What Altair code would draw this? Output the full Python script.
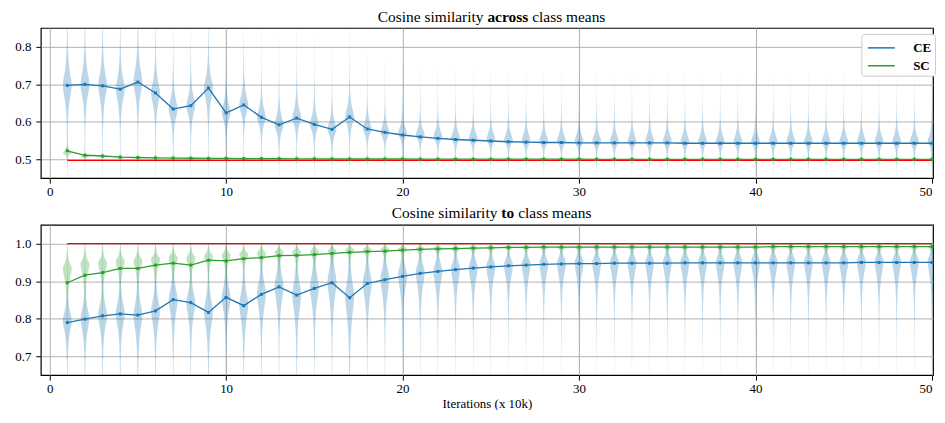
import altair as alt
import numpy as np
import pandas as pd

# ---------------- data ----------------
iters = list(range(1, 51))

# "across class means" panel
ce_across_mean = [0.697, 0.700, 0.696, 0.687, 0.706, 0.677, 0.634, 0.643, 0.690, 0.624,
                  0.645, 0.612, 0.592, 0.610, 0.593, 0.580, 0.613, 0.581, 0.572, 0.565,
                  0.560, 0.556, 0.553, 0.551, 0.549, 0.547, 0.546, 0.545, 0.545, 0.544,
                  0.544, 0.544, 0.544, 0.544, 0.544, 0.543, 0.543, 0.543, 0.543, 0.543,
                  0.543, 0.543, 0.543, 0.543, 0.543, 0.543, 0.543, 0.543, 0.543, 0.543]
ce_across_mode = [0.697, 0.700, 0.696, 0.687, 0.706, 0.677, 0.634, 0.643, 0.690, 0.624,
                  0.645, 0.612, 0.592, 0.610, 0.593, 0.580, 0.613, 0.581, 0.572, 0.569,
                  0.564, 0.560, 0.557, 0.555, 0.553, 0.551, 0.550, 0.549, 0.549, 0.548,
                  0.548, 0.548, 0.548, 0.548, 0.548, 0.547, 0.547, 0.547, 0.547, 0.547,
                  0.547, 0.547, 0.547, 0.547, 0.547, 0.547, 0.547, 0.547, 0.547, 0.547]
ce_across_bhi = [0.042, 0.040, 0.040, 0.038, 0.042, 0.036, 0.032, 0.030, 0.034, 0.028,
                 0.030, 0.026, 0.026, 0.028, 0.026, 0.024, 0.028, 0.022, 0.021, 0.021,
                 0.020, 0.020, 0.020, 0.020, 0.020, 0.020, 0.020, 0.020, 0.020, 0.020,
                 0.020, 0.020, 0.020, 0.020, 0.020, 0.020, 0.020, 0.020, 0.020, 0.020,
                 0.020, 0.020, 0.020, 0.020, 0.020, 0.020, 0.020, 0.020, 0.020, 0.020]
ce_across_blo = [0.042, 0.040, 0.040, 0.038, 0.040, 0.036, 0.030, 0.028, 0.038, 0.024,
                 0.026, 0.022, 0.022, 0.022, 0.020, 0.020, 0.024, 0.016, 0.015, 0.014,
                 0.013, 0.013, 0.013, 0.013, 0.013, 0.013, 0.013, 0.013, 0.013, 0.013,
                 0.013, 0.013, 0.013, 0.013, 0.013, 0.013, 0.013, 0.013, 0.013, 0.013,
                 0.013, 0.013, 0.013, 0.013, 0.013, 0.013, 0.013, 0.013, 0.013, 0.013]

sc_across_mean = [0.523, 0.511, 0.509, 0.506, 0.505, 0.504, 0.5035, 0.503, 0.5025, 0.5025,
                  0.502, 0.502, 0.502, 0.5015, 0.5015, 0.501, 0.501, 0.501, 0.501, 0.501,
                  0.5005, 0.5005, 0.5005, 0.5005, 0.5005, 0.5005, 0.5005, 0.5005, 0.5005, 0.5005,
                  0.5003, 0.5003, 0.5003, 0.5003, 0.5003, 0.5003, 0.5003, 0.5003, 0.5003, 0.5003,
                  0.5003, 0.5003, 0.5003, 0.5003, 0.5003, 0.5003, 0.5003, 0.5003, 0.5003, 0.5003]
sc_across_mode = [0.518, 0.508, 0.507, 0.505, 0.504, 0.503, 0.503, 0.5025, 0.502, 0.502,
                  0.5015, 0.5015, 0.5015, 0.501, 0.501, 0.5008, 0.5008, 0.5008, 0.5008, 0.5008,
                  0.5004, 0.5004, 0.5004, 0.5004, 0.5004, 0.5004, 0.5004, 0.5004, 0.5004, 0.5004,
                  0.5002, 0.5002, 0.5002, 0.5002, 0.5002, 0.5002, 0.5002, 0.5002, 0.5002, 0.5002,
                  0.5002, 0.5002, 0.5002, 0.5002, 0.5002, 0.5002, 0.5002, 0.5002, 0.5002, 0.5002]
sc_across_bhi = [0.008, 0.004] + [0.0025] * 48
sc_across_blo = [0.006, 0.003] + [0.002] * 48

# "to class means" panel
ce_to_mean = [0.790, 0.799, 0.808, 0.813, 0.810, 0.821, 0.851, 0.843, 0.817, 0.857,
              0.835, 0.865, 0.885, 0.863, 0.881, 0.896, 0.856, 0.894, 0.904, 0.913,
              0.921, 0.926, 0.931, 0.935, 0.938, 0.941, 0.943, 0.945, 0.946, 0.947,
              0.947, 0.948, 0.948, 0.948, 0.948, 0.949, 0.949, 0.949, 0.949, 0.949,
              0.949, 0.949, 0.949, 0.949, 0.949, 0.950, 0.950, 0.950, 0.950, 0.950]
ce_to_mode = [0.796, 0.801, 0.810, 0.815, 0.810, 0.822, 0.851, 0.843, 0.820, 0.857,
              0.837, 0.866, 0.886, 0.865, 0.883, 0.898, 0.860, 0.897, 0.908, 0.917,
              0.924, 0.929, 0.934, 0.938, 0.941, 0.944, 0.946, 0.948, 0.949, 0.950,
              0.950, 0.951, 0.951, 0.951, 0.951, 0.952, 0.952, 0.952, 0.952, 0.952,
              0.952, 0.952, 0.952, 0.952, 0.952, 0.953, 0.953, 0.953, 0.953, 0.953]
ce_to_bhi = [0.030, 0.032, 0.034, 0.036, 0.038, 0.036, 0.036, 0.036, 0.040, 0.036,
             0.040, 0.040, 0.040, 0.042, 0.042, 0.045, 0.050, 0.035, 0.032, 0.030,
             0.027, 0.025, 0.023, 0.022, 0.020, 0.019, 0.019, 0.019, 0.019, 0.019,
             0.019, 0.019, 0.019, 0.019, 0.019, 0.019, 0.019, 0.019, 0.019, 0.019,
             0.019, 0.019, 0.019, 0.019, 0.019, 0.019, 0.019, 0.019, 0.019, 0.019]
ce_to_blo = [0.038, 0.040, 0.042, 0.044, 0.050, 0.045, 0.048, 0.045, 0.050, 0.045,
             0.050, 0.050, 0.050, 0.055, 0.050, 0.055, 0.065, 0.050, 0.050, 0.048,
             0.047, 0.046, 0.045, 0.045, 0.044, 0.042, 0.042, 0.042, 0.042, 0.042,
             0.042, 0.042, 0.042, 0.042, 0.042, 0.042, 0.042, 0.042, 0.042, 0.042,
             0.042, 0.042, 0.042, 0.042, 0.042, 0.042, 0.042, 0.042, 0.042, 0.042]

sc_to_mean = [0.896, 0.916, 0.923, 0.934, 0.934, 0.943, 0.948, 0.943, 0.956, 0.954,
              0.960, 0.963, 0.968, 0.969, 0.971, 0.974, 0.977, 0.979, 0.980, 0.983,
              0.985, 0.986, 0.987, 0.988, 0.989, 0.990, 0.990, 0.991, 0.991, 0.991,
              0.991, 0.991, 0.991, 0.991, 0.991, 0.991, 0.991, 0.991, 0.991, 0.991,
              0.992, 0.992, 0.992, 0.992, 0.992, 0.992, 0.992, 0.992, 0.992, 0.992]
sc_to_mode = [0.935, 0.945, 0.948, 0.953, 0.953, 0.958, 0.962, 0.962, 0.967, 0.969,
              0.972, 0.974, 0.977, 0.978, 0.979, 0.981, 0.983, 0.984, 0.985, 0.986,
              0.987, 0.988, 0.988, 0.989, 0.990, 0.991, 0.991, 0.991, 0.991, 0.991,
              0.992, 0.992, 0.992, 0.992, 0.992, 0.992, 0.992, 0.992, 0.992, 0.992,
              0.992, 0.992, 0.992, 0.992, 0.992, 0.992, 0.992, 0.992, 0.992, 0.992]
sc_to_bhi = [0.016, 0.015, 0.014, 0.013, 0.013, 0.012, 0.011, 0.011, 0.010, 0.010,
             0.009, 0.009, 0.008, 0.008, 0.008, 0.007, 0.007, 0.006, 0.006, 0.006,
             0.005, 0.005, 0.005, 0.005, 0.005] + [0.004] * 25
sc_to_blo = [0.035, 0.032, 0.030, 0.028, 0.027, 0.025, 0.023, 0.023, 0.020, 0.020,
             0.018, 0.017, 0.016, 0.015, 0.014, 0.013, 0.012, 0.012, 0.011, 0.010,
             0.010, 0.009, 0.009, 0.008, 0.008] + [0.007] * 25

ref_x = [1, 50]
ref_across = [0.4975, 0.4975]
ref_to = [1.0, 1.0]

series_names = ["CE", "SC"]
series_colors = ["#1f77b4", "#2ca02c"]

x_ticks = [0, 10, 20, 30, 40, 50]
y_ticks_across = [0.5, 0.6, 0.7, 0.8]
y_ticks_to = [0.7, 0.8, 0.9, 1.0]

FONT = "Liberation Serif"
HALF_W = 0.25  # violin half width (matplotlib widths=0.5)
X_DOM = [-0.5, 50.06]
PLOT_W = 897
PLOT_H = 151


def violin_frame(modes, b_lo, b_hi, y_lo, y_hi):
    rows = []
    for it, m, bl, bh in zip(iters, modes, b_lo, b_hi):
        lo = max(m - 7 * bl, y_lo)
        hi = min(m + 9 * bh, y_hi)
        ys = np.unique(np.concatenate([np.linspace(lo, m, 28), np.linspace(m, hi, 28)]))
        b = np.where(ys < m, bl, bh)
        w = HALF_W / (1 + ((ys - m) / b) ** 2)
        for y, ww in zip(ys, w):
            rows.append({"it": it, "y": round(float(y), 5),
                         "xl": round(it - float(ww), 4), "xr": round(it + float(ww), 4)})
    return pd.DataFrame(rows)


def panel(ce_mean, sc_mean, ce_vio, sc_vio, ref_vals, ydom, yticks, title_parts,
          show_legend, xtitle):
    xs = alt.Scale(domain=X_DOM, nice=False, zero=False)
    ys = alt.Scale(domain=ydom, nice=False, zero=False)
    xaxis = alt.Axis(values=x_ticks, format="d", title=xtitle)
    yaxis = alt.Axis(values=yticks, format=".1f", title=None)

    def vio_layer(df, color):
        return alt.Chart(df).mark_area(orient="horizontal", fill=color, opacity=0.3,
                                       clip=True).encode(
            y=alt.Y("y:Q", scale=ys, axis=yaxis),
            x=alt.X("xl:Q", scale=xs, axis=xaxis),
            x2="xr:Q",
            detail="it:N",
        )

    v_ce = vio_layer(ce_vio, series_colors[0])
    v_sc = vio_layer(sc_vio, series_colors[1])

    ref = alt.Chart(pd.DataFrame({"it": ref_x, "v": ref_vals})).mark_line(
        color="red", strokeWidth=1.3).encode(
        x=alt.X("it:Q", scale=xs, axis=xaxis),
        y=alt.Y("v:Q", scale=ys, axis=yaxis),
    )

    lines_df = pd.DataFrame({
        "it": iters + iters,
        "v": list(ce_mean) + list(sc_mean),
        "series": ["CE"] * 50 + ["SC"] * 50,
    })
    if show_legend:
        legend = alt.Legend(
            orient="none", legendX=825, legendY=6, title=None,
            symbolType="M-1.35,0H1.35", symbolSize=400, symbolStrokeWidth=1.5,
            symbolOffset=6, labelOffset=21,
            labelFont=FONT, labelFontWeight="bold", labelFontSize=13, labelColor="black",
            fillColor="white", strokeColor="#cccccc", cornerRadius=3, padding=3,
            rowPadding=0,
        )
    else:
        legend = None
    lines = alt.Chart(lines_df).mark_line(
        strokeWidth=1.3,
        point=alt.OverlayMarkDef(shape="square", size=9, filled=True),
    ).encode(
        x=alt.X("it:Q", scale=xs, axis=xaxis),
        y=alt.Y("v:Q", scale=ys, axis=yaxis),
        color=alt.Color("series:N",
                        scale=alt.Scale(domain=series_names, range=series_colors),
                        legend=legend),
    )

    texts = []
    for txt, weight, align, xpos, ypos in title_parts:
        texts.append(
            alt.Chart(pd.DataFrame({"t": [txt]})).mark_text(
                align=align, baseline="middle", font=FONT, fontSize=15.5,
                fontWeight=weight, color="black",
            ).encode(text="t:N", x=alt.value(xpos), y=alt.value(ypos))
        )

    return alt.layer(v_ce, v_sc, ref, lines, *texts).properties(width=PLOT_W, height=PLOT_H)


top = panel(
    ce_across_mean, sc_across_mean,
    violin_frame(ce_across_mode, ce_across_blo, ce_across_bhi, 0.45, 0.85),
    violin_frame(sc_across_mode, sc_across_blo, sc_across_bhi, 0.45, 0.85),
    ref_across, [0.45, 0.85], y_ticks_across,
    [("Cosine similarity", "normal", "right", 445, -11),
     ("across", "bold", "left", 449, -11),
     ("class means", "normal", "left", 494, -11)],
    True, None,
)

bottom = panel(
    ce_to_mean, sc_to_mean,
    violin_frame(ce_to_mode, ce_to_blo, ce_to_bhi, 0.65, 1.0),
    violin_frame(sc_to_mode, sc_to_blo, sc_to_bhi, 0.65, 1.0),
    ref_to, [0.65, 1.05], y_ticks_to,
    [("Cosine similarity", "normal", "right", 459, -12),
     ("to", "bold", "left", 463, -12),
     ("class means", "normal", "left", 480, -12)],
    False, "Iterations (x 10k)",
)

chart = alt.vconcat(top, bottom, spacing=6).resolve_scale(color="independent").properties(
    padding={"left": 0, "right": 0, "top": 0, "bottom": -3}
).configure_view(
    stroke="black", strokeWidth=1.2
).configure_axis(
    grid=True, gridColor="#b0b0b0", gridWidth=1,
    domain=False, tickColor="black", tickSize=5,
    labelFont=FONT, labelFontSize=13, labelColor="black",
    titleFont=FONT, titleFontSize=13, titleFontWeight="normal", titleColor="black",
).configure_axisX(
    labelPadding=2, titlePadding=3, labelFlush=3,
).configure_axisY(
    labelPadding=5, minExtent=32, maxExtent=32,
)

chart.save("out.html", embed_options={"renderer": "svg", "actions": False})
